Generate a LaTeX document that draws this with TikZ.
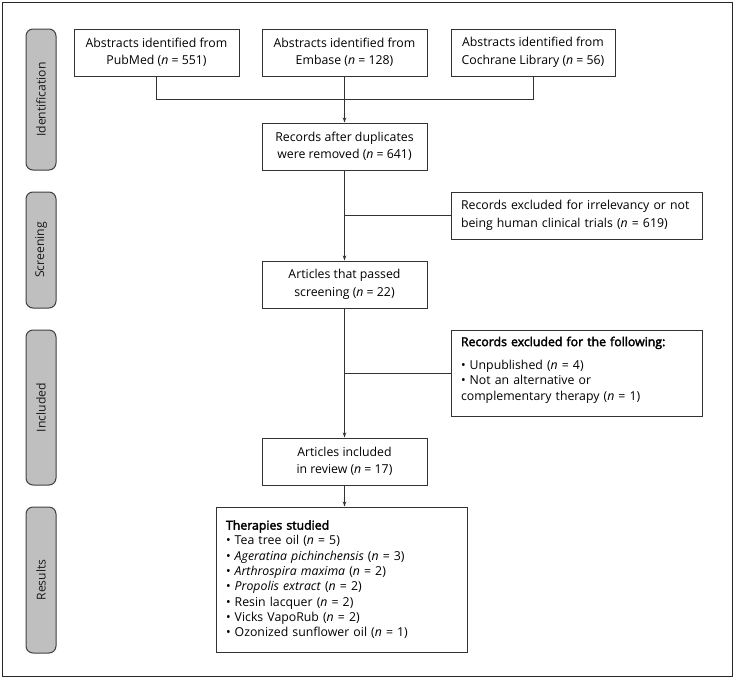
\documentclass[tikz,border=0pt]{standalone}
\usepackage{fontspec}
\setmainfont{Open Sans}
\newfontfamily\semib[FakeBold=2.6]{Open Sans}
\usetikzlibrary{arrows.meta}
\begin{document}
\begin{tikzpicture}[x=1pt,y=-1pt,
  box/.style={draw=black!80,line width=1pt,inner sep=0pt,align=center,font=\fontsize{12.3}{17.5}\selectfont},
  lbox/.style={box,align=left,inner xsep=10pt,font=\fontsize{12.3}{15.3}\selectfont},
  side/.style={draw=black!75,fill=black!25,line width=1pt,rounded corners=7pt,minimum width=30pt,inner sep=0pt},
  stxt/.style={rotate=90,font=\fontsize{12.2}{12}\selectfont,text=black!90},
  conn/.style={draw=black!80,line width=0.7pt},
  arr/.style={conn,-{Stealth[length=5pt,width=3.5pt]}}]
\useasboundingbox (0,0) rectangle (734,678);
\draw[black!85,line width=1pt] (2,2) rectangle (732,676);
% side labels
\node[side,minimum height=141pt] (sid) at (41,99.5) {};
\node[stxt] (tid) at (sid.center) {Identification};
\node[side,minimum height=116pt] (sscr) at (41,250) {};
\node[stxt] (tscr) at (sscr.center) {Screening};
\node[side,minimum height=155pt] (sinc) at (41,407.5) {};
\node[stxt] (tinc) at (sinc.center) {Included};
\node[side,minimum height=146pt] (sres) at (41,580) {};
\node[stxt] (tres) at (sres.center) {Results};
% boxes
\node[box,minimum width=165pt,minimum height=47pt] (pub) at (156.5,52.5) {Abstracts identified from\\PubMed (\textit{n} = 551)};
\node[box,minimum width=165pt,minimum height=47pt] (emb) at (344.5,52.5) {Abstracts identified from\\Embase (\textit{n} = 128)};
\node[box,minimum width=164pt,minimum height=47pt] (coc) at (533,52.5) {Abstracts identified from\\Cochrane Library (\textit{n} = 56)};
\node[box,minimum width=165pt,minimum height=47pt] (dup) at (344.5,146.5) {Records after duplicates\\were removed (\textit{n} = 641)};
\node[lbox,font=\fontsize{12.3}{17.5}\selectfont,minimum width=251pt,minimum height=47pt,text width=231pt] (ex1) at (576.5,215.5) {Records excluded for irrelevancy or not\\being human clinical trials (\textit{n} = 619)};
\node[box,minimum width=165pt,minimum height=47pt] (pas) at (344.5,284.5) {Articles that passed\\screening (\textit{n} = 22)};
\node[lbox,minimum width=251pt,minimum height=86pt,text width=231pt] (ex2) at (576.5,373) {{\semib Records excluded for the following:}\\[8pt]• Unpublished (\textit{n} = 4)\\• Not an alternative or\\complementary therapy (\textit{n} = 1)\\[-6pt]\mbox{}};
\node[box,minimum width=165pt,minimum height=47pt] (inc) at (344.5,461.5) {Articles included\\in review (\textit{n} = 17)};
\node[lbox,minimum width=251pt,minimum height=145pt,text width=231pt] (thr) at (341.5,579.5) {{\semib Therapies studied}\\• Tea tree oil (\textit{n} = 5)\\• \textit{Ageratina pichinchensis} (\textit{n} = 3)\\• \textit{Arthrospira maxima} (\textit{n} = 2)\\• \textit{Propolis extract} (\textit{n} = 2)\\• Resin lacquer (\textit{n} = 2)\\• Vicks VapoRub (\textit{n} = 2)\\• Ozonized sunflower oil (\textit{n} = 1)};
% connectors
\coordinate (m) at (344.5,99);
\draw[conn] (pub.south) |- (m);
\draw[conn] (coc.south) |- (m);
\draw[arr] (emb.south) -- (dup.north);
\draw[arr] (dup.south) -- (pas.north);
\draw[conn] (dup.south |- ex1.west) -- (ex1.west);
\draw[arr] (pas.south) -- (inc.north);
\draw[conn] (pas.south |- ex2.west) -- (ex2.west);
\draw[arr] (inc.south) -- (inc.south |- thr.north);
\end{tikzpicture}
\end{document}
